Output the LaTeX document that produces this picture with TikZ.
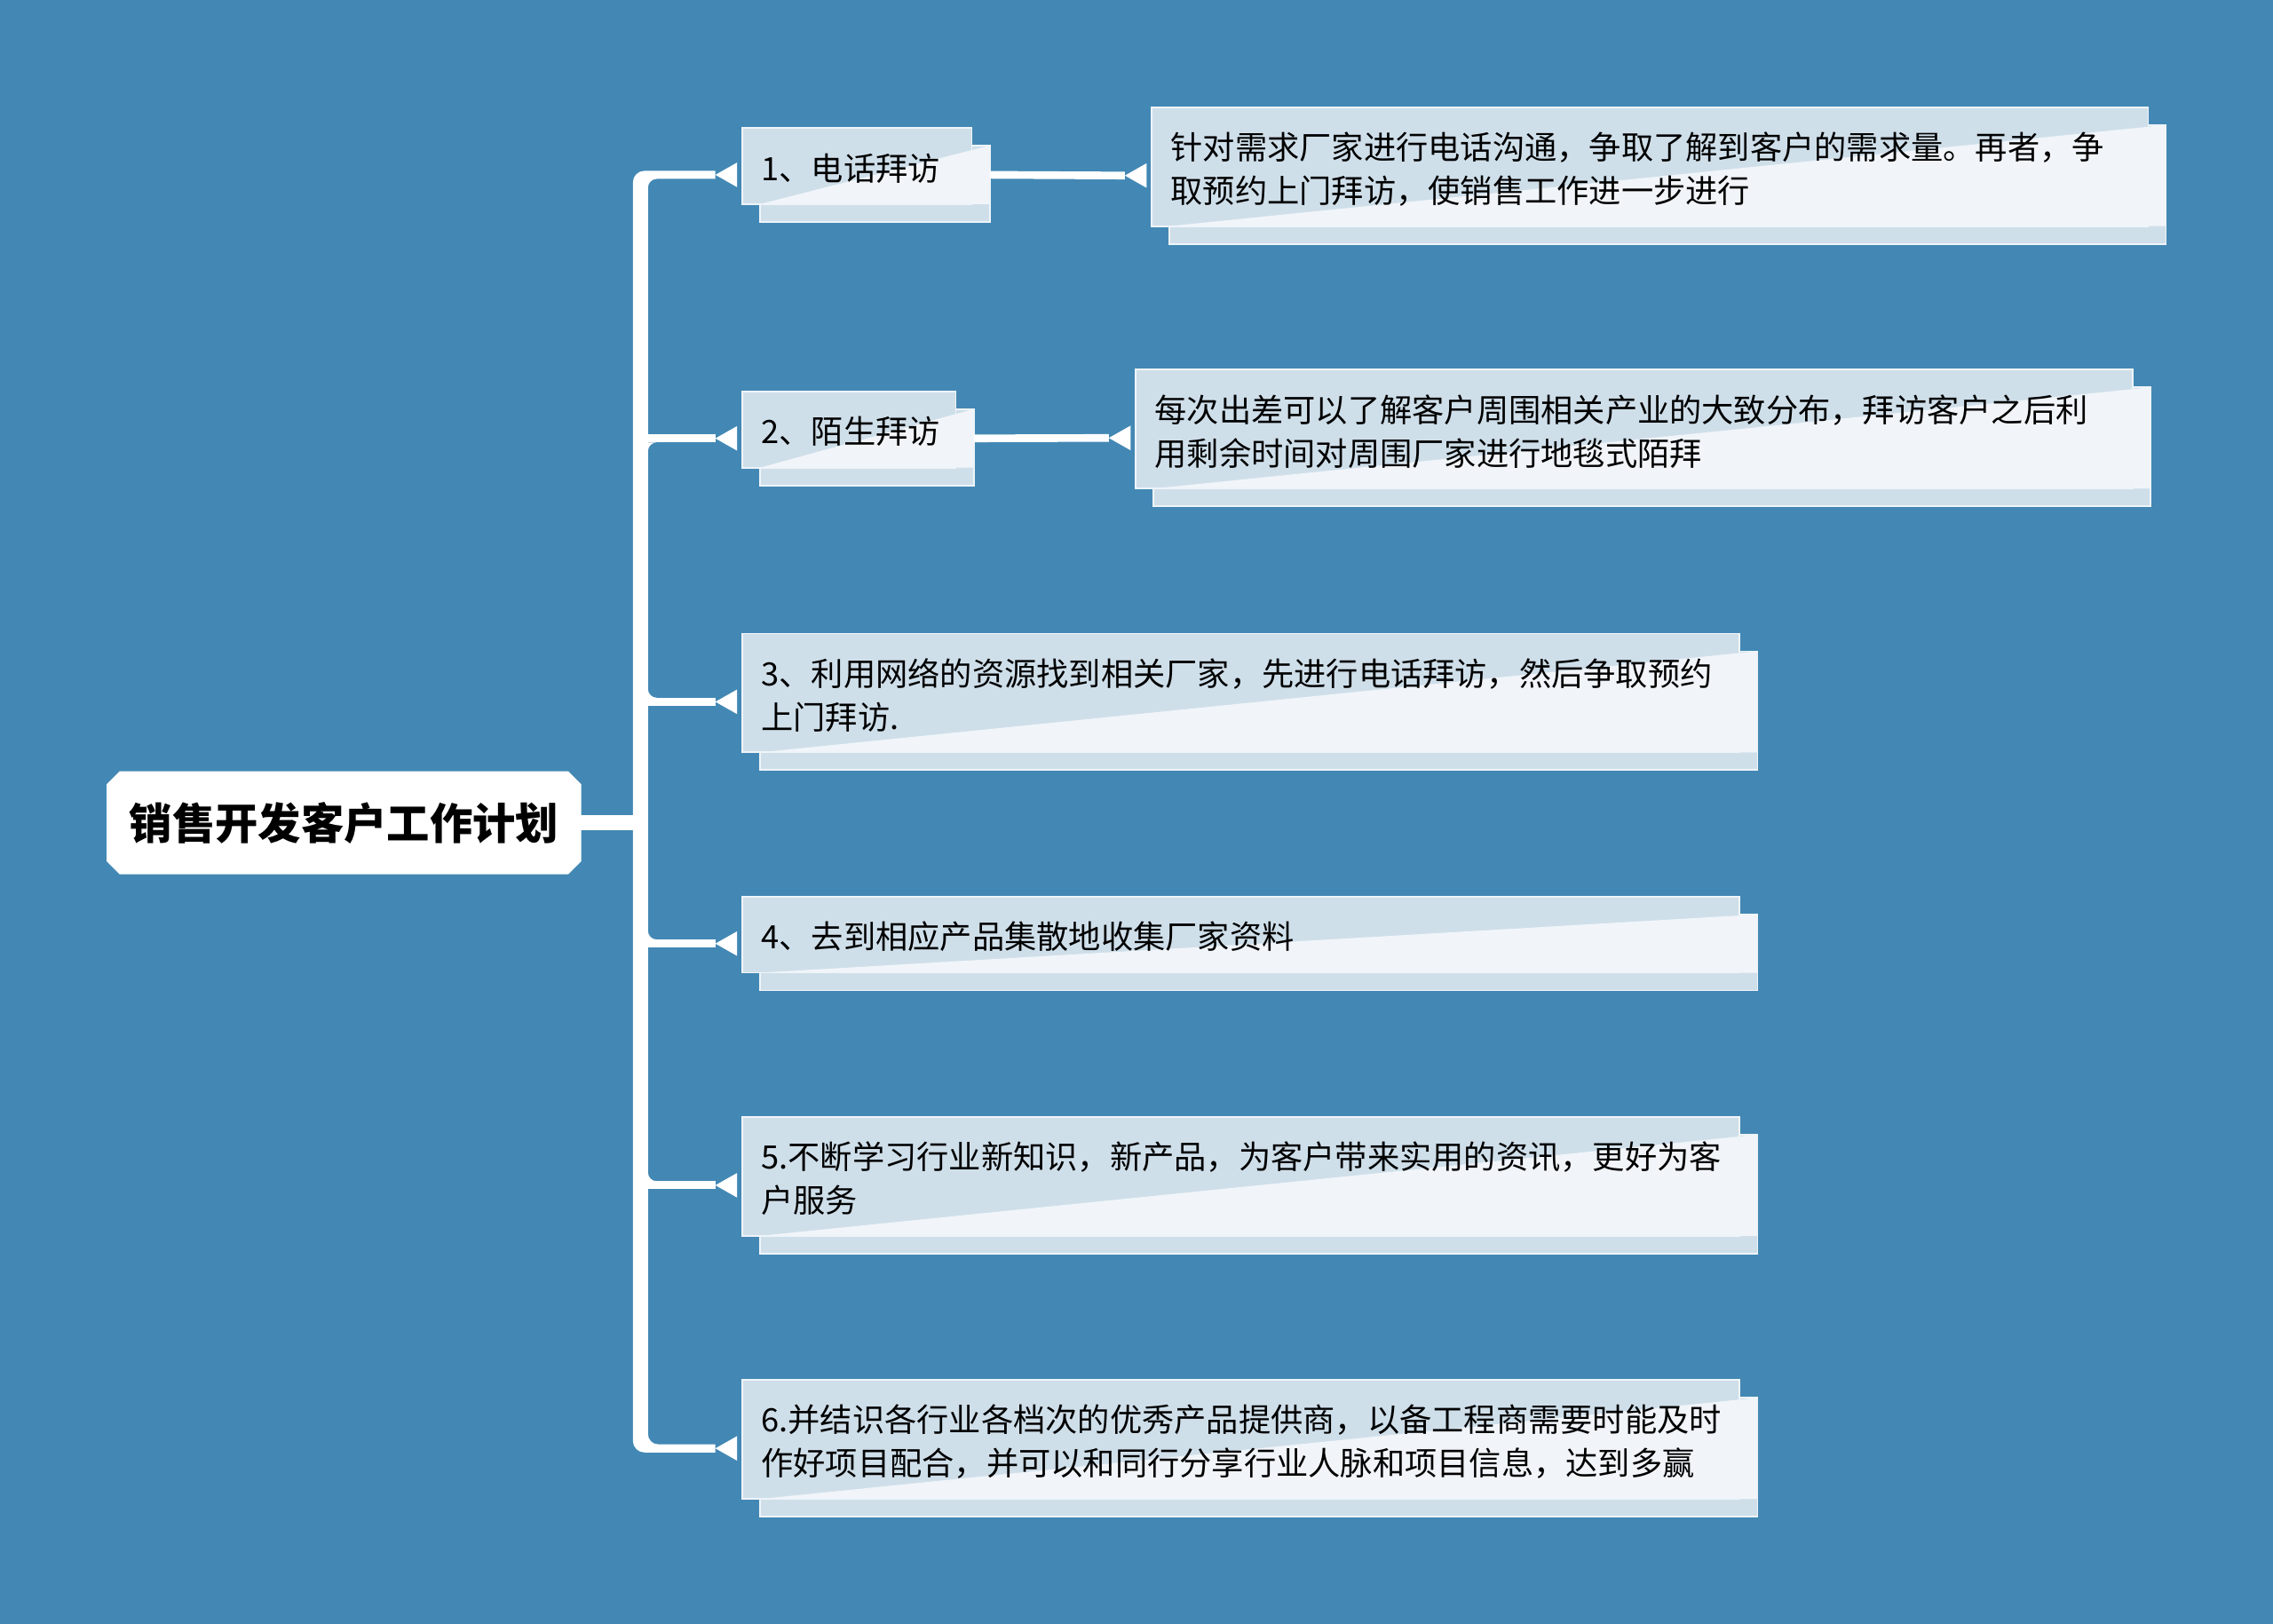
\documentclass[tikz,border=0pt]{standalone}
\usepackage{fontspec}
\setmainfont{Noto Sans CJK SC}
\definecolor{bgblue}{RGB}{67,136,180}
\definecolor{carddark}{RGB}{207,223,234}
\definecolor{cardlight}{RGB}{241,245,249}
\definecolor{cardedge}{RGB}{238,244,249}
\tikzset{
  cardback/.style={fill=carddark},
  cardfront/.style={rectangle, fill=carddark, draw=none, inner sep=0pt, outer sep=0pt},
  cardgloss/.style={fill=cardlight},
  cardrim/.style={draw=cardedge, line width=1.1pt},
  cardtext/.style={inner sep=0pt, anchor=west, align=left, text=black,
    font=\fontsize{22.2pt}{30pt}\selectfont},
  roottext/.style={inner sep=0pt, text=black, font=\fontsize{29.6pt}{34pt}\selectfont\bfseries},
  twig/.style={draw=white, line width=5.6pt},
  stem/.style={draw=white, line width=10.4pt},
  tip/.style={fill=white},
  fillet/.style={fill=white},
}
\newcommand\mmcard[6]{%
  \pgfmathsetmacro\mmbxa{#2+12.3}%
  \pgfmathsetmacro\mmbya{#3+12.2}%
  \pgfmathsetmacro\mmbxb{#4+12.3}%
  \pgfmathsetmacro\mmbyb{#5+12.2}%
  \pgfmathsetmacro\mmcy{(#3+#5+12.2)/2}%
  \pgfmathsetmacro\mmty{(#3+#5)/2+1.5}%
  \pgfmathsetmacro\mmw{#4-#2}%
  \pgfmathsetmacro\mmh{#5-#3}%
  \fill[cardback] (\mmbxa,\mmbya) rectangle (\mmbxb,\mmbyb);
  \node[cardfront, minimum width={\mmw pt}, minimum height={\mmh pt}, anchor=north west] (#1) at (#2,#3) {};
  \fill[cardgloss] (\mmbxa,#5) -- (\mmbxb,\mmbya) -- (\mmbxb,#5) -- cycle;
  \draw[cardrim] (#4,\mmbya) -- (\mmbxb,\mmbya) -- (\mmbxb,\mmbyb) -- (\mmbxa,\mmbyb) -- (\mmbxa,#5);
  \draw[cardrim] (#1.north west) rectangle (#1.south east);
  \node[cardtext] (#1-t) at (#2+13,\mmty) {#6};
  \coordinate (#1-in) at (#2-18.5,\mmcy);
  \coordinate (#1-out) at (\mmbxb,\mmcy);
  \fill[tip] (#1-in) -- ++(15,-8.5) -- ++(0,17) -- cycle;
}
\begin{document}
\begin{tikzpicture}[x=1pt,y=-1pt]
\fill[bgblue] (0,0) rectangle (1568,1120);
\useasboundingbox (0,0) rectangle (1568,1120);

% cards
\mmcard{c1}{512}{88.2}{670.4}{140.8}{1、电话拜访}
\mmcard{c2}{512}{270}{659.4}{322.6}{2、陌生拜访}
\mmcard{c3}{512}{437}{1200.1}{519}{3、利用网络的资源找到相关厂家，先进行电话拜访，然后争取预约\\上门拜访.}
\mmcard{c4}{512}{618.6}{1200.1}{671}{4、去到相应产品集散地收集厂家资料}
\mmcard{c5}{512}{770.5}{1200.1}{852.5}{5.不断学习行业新知识，新产品，为客户带来实用的资讯，更好为客\\户服务}
\mmcard{c6}{512}{952}{1200.1}{1034}{6.并结识各行业各档次的优秀产品提供商，以备工程商需要时能及时\\作好项目配合，并可以和同行分享行业人脉和项目信息，达到多赢}
\mmcard{d1}{794.5}{74}{1481.9}{156}{针对需求厂家进行电话沟通，争取了解到客户的需求量。再者，争\\取预约上门拜访，使销售工作进一步进行}
\mmcard{d2}{783.4}{255}{1471}{337}{每次出差可以了解客户周围相关产业的大致分布，拜访客户之后利\\用剩余时间对周围厂家进行地毯式陌拜}

% root
\fill[white] (82.5,532) -- (392,532) -- (401,541) -- (401,594) -- (392,603)
  -- (82.5,603) -- (73.5,594) -- (73.5,541) -- cycle;
\node[roottext, minimum width=327.5pt, minimum height=71pt] (root) at (237.25,567.5) {销售开发客户工作计划};

% trunk
\coordinate (trunkJ) at (445,0);
\fill[white]
  (436.6,125.8) .. controls (436.6,121.38) and (440.18,117.8) .. (444.6,117.8)
  -- ([yshift=2.8pt]c1-in) -- ([yshift=-2.8pt]c1-in)
  -- (453,123.4) .. controls (449.69,123.4) and (447,126.09) .. (447,129.4)
  -- (447,989.3) .. controls (447,993.16) and (450.14,996.3) .. (454,996.3)
  -- ([yshift=2.8pt]c6-in) -- ([yshift=-2.8pt]c6-in)
  -- (444.6,1001.9) .. controls (440.18,1001.9) and (436.6,998.32) .. (436.6,993.9)
  -- cycle;
\draw[stem] ([xshift=-1pt]root.east) -- (root.east -| trunkJ);

% branches
\draw[twig] (c2-in -| trunkJ) -- (c2-in);
\draw[twig] (c3-in -| trunkJ) -- (c3-in);
\draw[twig] (c4-in -| trunkJ) -- (c4-in);
\draw[twig] (c5-in -| trunkJ) -- (c5-in);
\fill[fillet] (447,305.2) -- ++(6,0) .. controls +(-3.31,0) and +(0,-3.31) .. ++(-6,6) -- cycle;
\fill[fillet] (447,481.3) -- ++(6,0) .. controls +(-3.31,0) and +(0,3.31) .. ++(-6,-6) -- cycle;
\fill[fillet] (447,648.1) -- ++(6,0) .. controls +(-3.31,0) and +(0,3.31) .. ++(-6,-6) -- cycle;
\fill[fillet] (447,814.8) -- ++(6,0) .. controls +(-3.31,0) and +(0,3.31) .. ++(-6,-6) -- cycle;

% child to description
\draw[twig, line width=5.3pt] (c1-out) -- (d1-in);
\draw[twig, line width=5.3pt] (c2-out) -- (d2-in);
\end{tikzpicture}
\end{document}
